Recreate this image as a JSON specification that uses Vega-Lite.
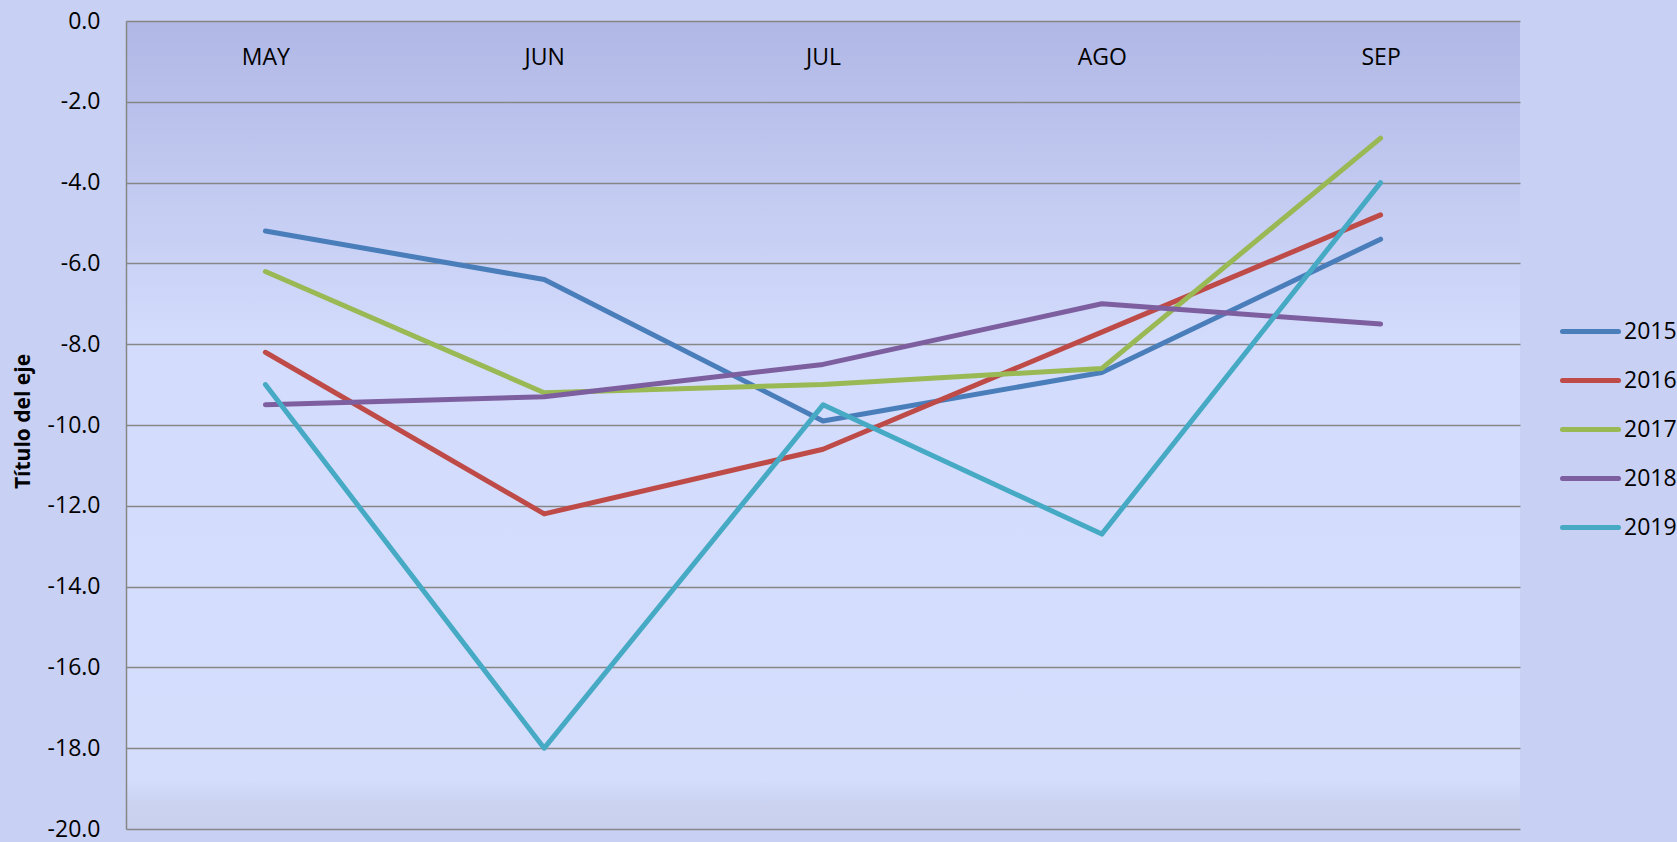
{
  "$schema": "https://vega.github.io/schema/vega-lite/v6.json",
  "width": 1394,
  "height": 808,
  "autosize": {"type": "none"},
  "padding": {"left": 126, "top": 21, "right": 157, "bottom": 13},
  "background": "#C8D0F3",
  "config": {
    "font": "Open Sans",
    "view": {
      "stroke": null,
      "fill": {
        "gradient": "linear",
        "x1": 0, "y1": 0, "x2": 0, "y2": 1,
        "stops": [
          {"offset": 0, "color": "#B0B7E5"},
          {"offset": 0.4, "color": "#D3DCFC"},
          {"offset": 0.94, "color": "#D4DDFC"},
          {"offset": 0.97, "color": "#CAD2F0"},
          {"offset": 1, "color": "#C8D0EE"}
        ]
      }
    }
  },
  "data": {
    "values": [
      {"mes": "MAY", "anio": "2015", "valor": -5.2},
      {"mes": "JUN", "anio": "2015", "valor": -6.4},
      {"mes": "JUL", "anio": "2015", "valor": -9.9},
      {"mes": "AGO", "anio": "2015", "valor": -8.7},
      {"mes": "SEP", "anio": "2015", "valor": -5.4},
      {"mes": "MAY", "anio": "2016", "valor": -8.2},
      {"mes": "JUN", "anio": "2016", "valor": -12.2},
      {"mes": "JUL", "anio": "2016", "valor": -10.6},
      {"mes": "AGO", "anio": "2016", "valor": -7.7},
      {"mes": "SEP", "anio": "2016", "valor": -4.8},
      {"mes": "MAY", "anio": "2017", "valor": -6.2},
      {"mes": "JUN", "anio": "2017", "valor": -9.2},
      {"mes": "JUL", "anio": "2017", "valor": -9.0},
      {"mes": "AGO", "anio": "2017", "valor": -8.6},
      {"mes": "SEP", "anio": "2017", "valor": -2.9},
      {"mes": "MAY", "anio": "2018", "valor": -9.5},
      {"mes": "JUN", "anio": "2018", "valor": -9.3},
      {"mes": "JUL", "anio": "2018", "valor": -8.5},
      {"mes": "AGO", "anio": "2018", "valor": -7.0},
      {"mes": "SEP", "anio": "2018", "valor": -7.5},
      {"mes": "MAY", "anio": "2019", "valor": -9.0},
      {"mes": "JUN", "anio": "2019", "valor": -18.0},
      {"mes": "JUL", "anio": "2019", "valor": -9.5},
      {"mes": "AGO", "anio": "2019", "valor": -12.7},
      {"mes": "SEP", "anio": "2019", "valor": -4.0}
    ]
  },
  "mark": {"type": "line", "strokeWidth": 5, "strokeCap": "round", "strokeJoin": "round"},
  "encoding": {
    "x": {
      "field": "mes",
      "type": "nominal",
      "sort": ["MAY", "JUN", "JUL", "AGO", "SEP"],
      "scale": {"type": "point", "padding": 0.5},
      "axis": {
        "orient": "bottom",
        "offset": -808,
        "title": null,
        "domain": false,
        "ticks": false,
        "tickSize": 0,
        "grid": false,
        "labelAngle": 0,
        "labelFont": "Open Sans",
        "labelFontSize": 23,
        "labelColor": "#000000",
        "labelBaseline": "middle",
        "labelPadding": 36
      }
    },
    "y": {
      "field": "valor",
      "type": "quantitative",
      "scale": {"domain": [-20, 0], "nice": false, "zero": false},
      "axis": {
        "values": [0, -2, -4, -6, -8, -10, -12, -14, -16, -18, -20],
        "format": ".1f",
        "labelExpr": "replace(datum.label, '−', '-')",
        "title": "Título del eje",
        "titleFont": "Open Sans",
        "titleFontWeight": "bold",
        "titleFontSize": 21,
        "titleColor": "#000000",
        "titleX": -103,
        "titleY": 400,
        "titleAngle": -90,
        "titleAlign": "center",
        "titleBaseline": "middle",
        "domain": true,
        "domainColor": "#868686",
        "domainWidth": 1.5,
        "ticks": false,
        "tickSize": 0,
        "grid": true,
        "gridColor": "#868686",
        "gridWidth": 1.5,
        "gridOpacity": 1,
        "labelFont": "Open Sans",
        "labelFontSize": 23,
        "labelColor": "#000000",
        "labelPadding": 26,
        "labelBaseline": "middle"
      }
    },
    "color": {
      "field": "anio",
      "type": "nominal",
      "scale": {
        "domain": ["2015", "2016", "2017", "2018", "2019"],
        "range": ["#4A7EBB", "#BE4B48", "#98B954", "#7D5FA0", "#46AAC5"]
      },
      "legend": {
        "title": null,
        "orient": "none",
        "legendX": 1448,
        "legendY": 294,
        "padding": 0,
        "symbolType": "M-2,0L2,0",
        "symbolSize": 784,
        "symbolStrokeWidth": 5,
        "labelFont": "Open Sans",
        "labelFontSize": 23,
        "labelColor": "#000000",
        "labelOffset": 17,
        "rowPadding": 20,
        "encode": {"symbols": {"update": {"strokeCap": {"value": "round"}}}}
      }
    }
  }
}
